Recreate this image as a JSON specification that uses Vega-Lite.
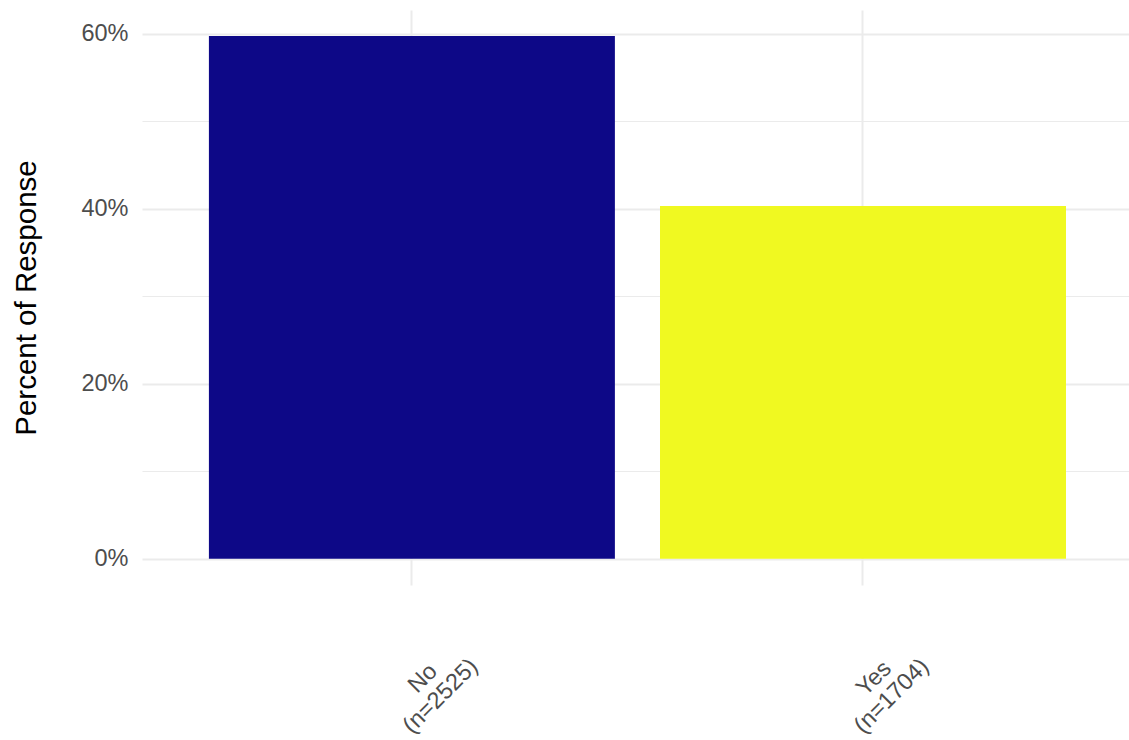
{
  "$schema": "https://vega.github.io/schema/vega-lite/v6.json",
  "width": 987,
  "height": 575,
  "autosize": {"type": "none"},
  "padding": {"left": 142, "top": 10, "right": 0, "bottom": 155},
  "background": "white",
  "config": {
    "view": {"stroke": null},
    "font": "Liberation Sans",
    "axis": {"domain": false, "ticks": false, "gridColor": "#EBEBEB", "labelColor": "#4D4D4D", "titleColor": "#000000", "labelFont": "Liberation Sans", "titleFont": "Liberation Sans", "titleFontWeight": "normal"}
  },
  "data": {
    "values": [
      {"response": "No", "label": "No (n=2525)", "pct": 0.5971},
      {"response": "Yes", "label": "Yes (n=1704)", "pct": 0.4029}
    ]
  },
  "mark": {"type": "bar"},
  "encoding": {
    "x": {
      "field": "label",
      "type": "nominal",
      "sort": null,
      "scale": {"paddingInner": 0.1, "paddingOuter": 0.144, "align": 0.515},
      "axis": {
        "title": null,
        "grid": true,
        "gridWidth": 2,
        "labelAngle": -45,
        "labelAlign": "center",
        "labelBaseline": "middle",
        "labelFontSize": 23.5,
        "labelLineHeight": 25,
        "labelPadding": 93,
        "labelOffset": 11,
        "labelExpr": "split(datum.label, ' ')"
      }
    },
    "y": {
      "field": "pct",
      "type": "quantitative",
      "scale": {"domain": [-0.02985, 0.62685], "nice": false, "zero": false},
      "axis": {
        "title": "Percent of Response",
        "values": [0, 0.1, 0.2, 0.3, 0.4, 0.5, 0.6],
        "labelExpr": "round(datum.value*100) % 20 == 0 ? format(datum.value, '.0%') : ''",
        "gridWidth": {"condition": {"test": "round(datum.value*100) % 20 == 0", "value": 2}, "value": 1},
        "labelFontSize": 23.5,
        "labelPadding": 14,
        "labelBaseline": "middle",
        "titleFontSize": 29.5,
        "titleAngle": -90,
        "titleAlign": "center",
        "titleBaseline": "alphabetic",
        "titleX": -107,
        "titleY": 287.5
      }
    },
    "color": {
      "field": "response",
      "type": "nominal",
      "scale": {"domain": ["No", "Yes"], "range": ["#0D0887", "#F0F921"]},
      "legend": null
    }
  }
}
